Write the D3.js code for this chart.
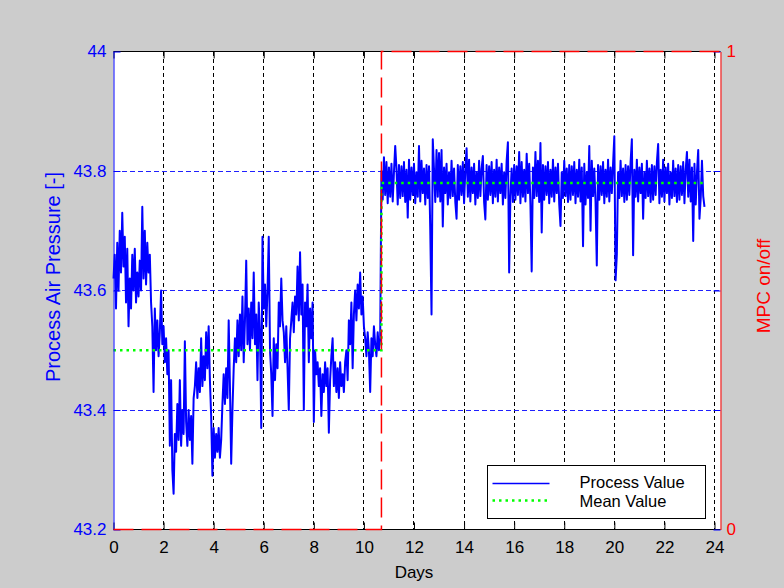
<!DOCTYPE html>
<html>
<head>
<meta charset="utf-8">
<script src="https://cdn.jsdelivr.net/npm/d3@7"></script>
<style>
    body { margin: 0; background: #cccccc; }
    svg text { font-family: "Liberation Sans", Arial, sans-serif; }
</style>
</head>
<body>
<div id="chart"></div>
<script>
// process air pressure, sampled every 0.05 days
let sampleStep = 0.05;

// before MPC switch-on, t = 0 .. 10.65
let pressureBefore = [
    43.62, 43.66, 43.57, 43.68, 43.60, 43.70, 43.63, 43.73, 43.64, 43.69,
    43.58, 43.67, 43.54, 43.62, 43.57, 43.66, 43.60, 43.67, 43.58, 43.63,
    43.59, 43.65, 43.60, 43.74, 43.62, 43.70, 43.61, 43.68, 43.63, 43.66,
    43.58, 43.54, 43.43, 43.57, 43.50, 43.55, 43.49, 43.53, 43.60, 43.51,
    43.54, 43.48, 43.52, 43.46, 43.50, 43.34, 43.45, 43.30, 43.26, 43.36,
    43.33, 43.41, 43.35, 43.45, 43.34, 43.40, 43.36, 43.515, 43.38, 43.34,
    43.40, 43.35, 43.39, 43.31, 43.42, 43.44, 43.48, 43.42, 43.47, 43.43,
    43.52, 43.44, 43.49, 43.45, 43.53, 43.47, 43.54, 43.45, 43.39, 43.29,
    43.37, 43.32, 43.36, 43.33, 43.37, 43.32, 43.35, 43.41, 43.46, 43.41,
    43.47, 43.42, 43.55, 43.44, 43.31, 43.40, 43.47, 43.52, 43.48, 43.55,
    43.49, 43.56, 43.50, 43.59, 43.48, 43.55, 43.65, 43.51, 43.57, 43.50,
    43.58, 43.52, 43.63, 43.51, 43.56, 43.45, 43.58, 43.53, 43.37, 43.69,
    43.57, 43.61, 43.54, 43.60, 43.69, 43.50, 43.46, 43.39, 43.52, 43.45,
    43.51, 43.47, 43.58, 43.54, 43.62, 43.55, 43.53, 43.48, 43.54, 43.47,
    43.40, 43.52, 43.55, 43.58, 43.53, 43.59, 43.56, 43.64, 43.55, 43.664,
    43.56, 43.61, 43.40, 43.58, 43.54, 43.61, 43.48, 43.57, 43.52, 43.58,
    43.38, 43.50, 43.46, 43.48, 43.44, 43.47, 43.39, 43.46, 43.43, 43.48,
    43.44, 43.47, 43.362, 43.45, 43.49, 43.52, 43.44, 43.48, 43.43, 43.47,
    43.42, 43.48, 43.44, 43.46, 43.43, 43.48, 43.50, 43.45, 43.55, 43.51,
    43.58, 43.47, 43.56, 43.60, 43.55, 43.61, 43.57, 43.63, 43.56, 43.59,
    43.54, 43.52, 43.49, 43.53, 43.50, 43.43, 43.52, 43.49, 43.54, 43.51,
    43.49, 43.53, 43.50, 43.52
];

// with MPC on, t = 10.70 .. 23.60
let afterStart = 10.70;
let pressureAfter = [
    43.800, 43.752, 43.823, 43.760, 43.815, 43.746, 43.806, 43.757, 43.812, 43.749,
    43.798, 43.842, 43.804, 43.744, 43.810, 43.755, 43.808, 43.758, 43.815, 43.748,
    43.802, 43.722, 43.819, 43.752, 43.806, 43.760, 43.812, 43.746, 43.798, 43.757,
    43.842, 43.749, 43.817, 43.763, 43.804, 43.744, 43.810, 43.755, 43.808, 43.700,
    43.560, 43.853, 43.802, 43.748, 43.835, 43.757, 43.830, 43.749, 43.835, 43.707,
    43.806, 43.763, 43.812, 43.744, 43.798, 43.755, 43.817, 43.758, 43.804, 43.748,
    43.720, 43.810, 43.752, 43.808, 43.760, 43.815, 43.746, 43.802, 43.838, 43.757,
    43.819, 43.749, 43.806, 43.763, 43.812, 43.744, 43.798, 43.755, 43.817, 43.758,
    43.804, 43.825, 43.748, 43.719, 43.810, 43.752, 43.808, 43.760, 43.815, 43.746,
    43.802, 43.757, 43.819, 43.749, 43.806, 43.763, 43.812, 43.744, 43.798, 43.755,
    43.817, 43.848, 43.630, 43.758, 43.804, 43.748, 43.810, 43.752, 43.808, 43.760,
    43.832, 43.746, 43.815, 43.757, 43.802, 43.749, 43.829, 43.763, 43.812, 43.744,
    43.632, 43.806, 43.755, 43.832, 43.758, 43.817, 43.748, 43.847, 43.697, 43.810,
    43.752, 43.808, 43.760, 43.815, 43.746, 43.802, 43.757, 43.819, 43.749, 43.806,
    43.763, 43.812, 43.744, 43.708, 43.798, 43.755, 43.817, 43.758, 43.804, 43.748,
    43.810, 43.752, 43.808, 43.760, 43.815, 43.746, 43.802, 43.757, 43.819, 43.749,
    43.806, 43.674, 43.812, 43.744, 43.798, 43.755, 43.842, 43.700, 43.817, 43.758,
    43.804, 43.748, 43.642, 43.810, 43.752, 43.808, 43.760, 43.815, 43.746, 43.802,
    43.757, 43.819, 43.749, 43.806, 43.763, 43.812, 43.858, 43.617, 43.660, 43.798,
    43.755, 43.817, 43.758, 43.804, 43.748, 43.810, 43.752, 43.808, 43.760, 43.815,
    43.853, 43.659, 43.802, 43.757, 43.819, 43.749, 43.806, 43.763, 43.812, 43.720,
    43.798, 43.755, 43.817, 43.758, 43.804, 43.748, 43.810, 43.752, 43.808, 43.760,
    43.815, 43.845, 43.746, 43.802, 43.757, 43.819, 43.749, 43.806, 43.763, 43.812,
    43.744, 43.798, 43.755, 43.817, 43.758, 43.804, 43.748, 43.810, 43.752, 43.808,
    43.760, 43.815, 43.746, 43.802, 43.832, 43.757, 43.819, 43.749, 43.806, 43.683,
    43.812, 43.744, 43.798, 43.835, 43.720, 43.755, 43.817, 43.758, 43.740
];

// mean value before / after switch-on
let meanDays = [0, 10.7, 10.7, 23.63];
let meanValues = [43.5, 43.5, 43.78, 43.78];

// MPC on/off state (right axis)
let mpcDays = [0, 10.7, 10.7, 24.24];
let mpcState = [0, 0, 1, 1];

let xTicks = [0, 2, 4, 6, 8, 10, 12, 14, 16, 18, 20, 22, 24];
let yTicks = [43.2, 43.4, 43.6, 43.8, 44];
let yRightTicks = [0, 1];

let width = 784;
let height = 588;
let plotW = 607;
let plotH = 478;

let svg = d3.select('#chart').append('svg')
    .attr('width', width)
    .attr('height', height);

svg.append('rect').attr('width', width).attr('height', height).attr('fill', '#cccccc');

let chart = svg.append('g').attr('transform', 'translate(113.5, 51.5)');

let xScale = d3.scaleLinear().domain([0, 24.24]).range([0, plotW]);
let yScale = d3.scaleLinear().domain([43.2, 44]).range([plotH, 0]);
let yRight = d3.scaleLinear().domain([0, 1]).range([plotH, 0]);

chart.append('rect').attr('width', plotW).attr('height', plotH).attr('fill', 'white');

// grid
chart.append('g').selectAll('line').data(xTicks.filter(d => d > 0)).enter().append('line')
    .attr('x1', d => Math.round(xScale(d))).attr('x2', d => Math.round(xScale(d)))
    .attr('y1', 0).attr('y2', plotH)
    .attr('stroke', '#000').attr('stroke-dasharray', '4,3')
    .attr('shape-rendering', 'crispEdges');

chart.append('g').selectAll('line').data(yTicks.slice(1, -1)).enter().append('line')
    .attr('x1', 0).attr('x2', plotW)
    .attr('y1', d => Math.round(yScale(d))).attr('y2', d => Math.round(yScale(d)))
    .attr('stroke', '#2020ff').attr('stroke-dasharray', '5,3')
    .attr('shape-rendering', 'crispEdges');

// process value
let points = pressureBefore.map((v, i) => [i * sampleStep, v])
    .concat(pressureAfter.map((v, i) => [afterStart + i * sampleStep, v]));

let line = d3.line().x(d => xScale(d[0])).y(d => yScale(d[1]));

chart.append('path').datum(points)
    .attr('d', line)
    .attr('fill', 'none')
    .attr('stroke', '#0000ff')
    .attr('stroke-width', 2)
    .attr('stroke-linejoin', 'round');

// mean value
chart.append('path').datum(meanDays.map((d, i) => [d, meanValues[i]]))
    .attr('d', line)
    .attr('fill', 'none')
    .attr('stroke', '#00ff00')
    .attr('stroke-width', 2.5)
    .attr('stroke-dasharray', '2.5,4');

// axes box
chart.append('line').attr('x1', 0).attr('x2', plotW).attr('y1', 0).attr('y2', 0).attr('stroke', '#000');
chart.append('line').attr('x1', 0).attr('x2', plotW).attr('y1', plotH).attr('y2', plotH).attr('stroke', '#000');

let xAxisBottom = d3.axisBottom(xScale).tickValues(xTicks).tickSizeInner(-7).tickSizeOuter(0).tickPadding(11);
let gx = chart.append('g').attr('transform', `translate(0, ${plotH})`).call(xAxisBottom);
gx.select('.domain').remove();
gx.selectAll('line').attr('stroke', '#000');
gx.selectAll('text').attr('fill', '#000').style('font-size', '17px');

let gxTop = chart.append('g').call(d3.axisTop(xScale).tickValues(xTicks).tickSizeInner(-7).tickSizeOuter(0).tickFormat(''));
gxTop.select('.domain').remove();
gxTop.selectAll('line').attr('stroke', '#000');

let gyLeft = chart.append('g').call(d3.axisLeft(yScale).tickValues(yTicks).tickSizeInner(-7).tickSizeOuter(0).tickPadding(7).tickFormat(d3.format('')));
gyLeft.select('.domain').attr('stroke', '#0000ff');
gyLeft.selectAll('line').attr('stroke', '#0000ff');
gyLeft.selectAll('text').attr('fill', '#0000ff').style('font-size', '17px');

let gyRightBlue = chart.append('g').attr('transform', `translate(${plotW}, 0)`)
    .call(d3.axisRight(yScale).tickValues(yTicks).tickSizeInner(-7).tickSizeOuter(0).tickFormat(''));
gyRightBlue.select('.domain').remove();
gyRightBlue.selectAll('line').attr('stroke', '#0000ff');

let gyRight = chart.append('g').attr('transform', `translate(${plotW}, 0)`)
    .call(d3.axisRight(yRight).tickValues(yRightTicks).tickSizeInner(0).tickSizeOuter(0).tickPadding(6).tickFormat(d3.format('d')));
gyRight.select('.domain').attr('stroke', '#ff0000');
gyRight.selectAll('text').attr('fill', '#ff0000').style('font-size', '17px');

// MPC on/off step
chart.append('path').datum(mpcDays.map((d, i) => [d, mpcState[i]]))
    .attr('d', d3.line().x(d => xScale(d[0])).y(d => yRight(d[1])))
    .attr('fill', 'none')
    .attr('stroke', '#ff0000')
    .attr('stroke-width', 1.5)
    .attr('stroke-dasharray', '20,8');

// labels
svg.append('text').attr('x', 414).attr('y', 578).attr('text-anchor', 'middle')
    .style('font-size', '17px').attr('fill', '#000').text('Days');

svg.append('text').attr('transform', 'translate(60, 277) rotate(-90)').attr('text-anchor', 'middle')
    .style('font-size', '20px').attr('fill', '#0000ff').text('Process Air Pressure [-]');

svg.append('text').attr('transform', 'translate(770, 286) rotate(-90)').attr('text-anchor', 'middle')
    .style('font-size', '19px').attr('fill', '#ff0000').text('MPC on/off');

// legend
let legend = svg.append('g').attr('transform', 'translate(487.5, 465.5)');
legend.append('rect').attr('width', 218).attr('height', 53).attr('fill', 'white').attr('stroke', '#000');
legend.append('line').attr('x1', 5).attr('x2', 62).attr('y1', 18).attr('y2', 18)
    .attr('stroke', '#0000ff').attr('stroke-width', 1.5);
legend.append('line').attr('x1', 5).attr('x2', 62).attr('y1', 35).attr('y2', 35)
    .attr('stroke', '#00ff00').attr('stroke-width', 2.5).attr('stroke-dasharray', '2.5,4');
legend.append('text').attr('x', 92).attr('y', 22.5).style('font-size', '16.5px').attr('fill', '#000').text('Process Value');
legend.append('text').attr('x', 92).attr('y', 41).style('font-size', '16.5px').attr('fill', '#000').text('Mean Value');
</script>
</body>
</html>
